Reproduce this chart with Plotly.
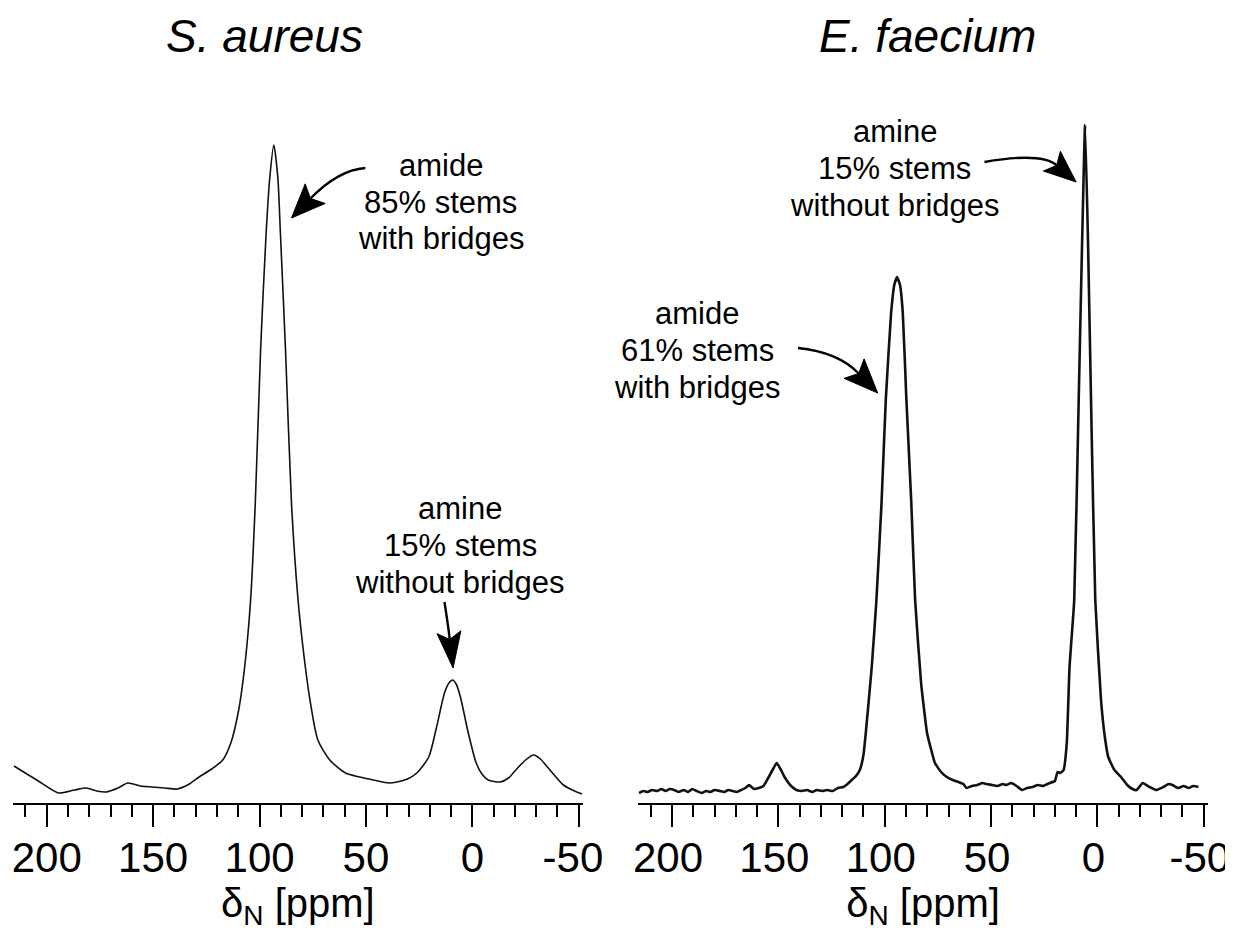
import math
import plotly.graph_objects as go

# ---------------- data (intensity in arbitrary units) -------------
sa_ppm = [215.4, 204.0, 194.4, 187.0, 181.4, 176.5, 172.1, 166.5, 161.9, 156.0, 150.7, 144.5,
          138.6, 133.0, 128.4, 122.5, 117.3, 113.5, 109.8, 107.0, 104.2, 102.0, 99.5, 96.9,
          95.2, 93.3, 91.4, 90.2, 87.8, 85.0, 81.9, 79.0, 76.3, 72.6, 67.0, 59.6, 53.0, 46.5,
          39.1, 35.4, 30.5, 26.1, 20.5, 16.8, 13.1, 11.0, 9.3, 7.6, 5.6, 1.9, -1.8, -4.5,
          -7.4, -13.0, -17.0, -20.4, -25.0, -28.8, -32.0, -35.3, -42.8, -48.0, -51.5]
sa_int = [37, 22, 10, 13, 15, 12, 11, 15, 20, 17, 16, 15,
          14, 19, 26, 34, 43, 60, 93, 136, 203, 300, 453, 570,
          625, 658, 625, 570, 453, 300, 203, 145, 103, 63, 43, 30, 26, 23,
          20, 21, 24, 30, 46, 76, 110, 120, 123, 119, 106, 70, 40, 29,
          23, 21, 25, 33, 43, 48, 44, 36, 18, 12, 9]

ef_ppm = [215.5, 213.5, 211.5, 209.5, 207.0, 205.0, 203.0, 201.0, 199.0, 197.0, 194.5, 192.5,
          190.5, 188.5, 186.0, 184.0, 182.0, 180.0, 177.5, 175.5, 173.5, 171.5, 169.5, 167.5,
          165.5, 163.8, 161.5, 159.2, 157.0, 154.5, 152.5, 150.8, 149.0, 147.1, 144.0, 141.5,
          139.0, 136.5, 134.0, 132.0, 129.5, 127.0, 124.5, 122.0, 119.5, 117.5, 115.5, 113.5,
          111.7, 110.0, 108.9, 106.1, 103.9, 101.5, 99.5, 97.0, 95.5, 94.2, 92.8, 91.5, 89.8,
          87.5, 85.7, 82.9, 80.1, 78.0, 76.4, 73.5, 70.8, 68.0, 65.3, 63.0, 61.5, 59.0, 56.5,
          54.0, 52.2, 49.5, 47.0, 44.5, 42.9, 40.5, 38.0, 35.4, 33.0, 30.5, 28.0, 25.5, 23.5,
          22.4, 20.0, 18.7, 17.5, 15.9, 14.4, 13.1, 10.9, 8.8, 7.2, 5.8, 4.4, 3.0, 1.0, -1.7,
          -3.5, -5.1, -8.0, -11.1, -14.0, -16.5, -18.5, -21.3, -24.5, -27.8, -31.0, -33.5,
          -35.3, -38.0, -40.5, -43.0, -45.0, -47.5]
ef_int = [10, 12, 11, 13, 12, 14, 12, 14, 13, 11, 13, 11,
          14, 12, 10, 12, 11, 13, 12, 11, 13, 12, 11, 13,
          15, 18, 14, 15, 17, 26, 34, 40, 34, 26, 17, 13,
          12, 13, 11, 13, 12, 13, 12, 15, 16, 19, 23, 27,
          33, 48, 70, 136, 203, 300, 403, 490, 518, 526, 518, 490, 403,
          300, 203, 120, 70, 52, 40, 31, 26, 23, 21, 19, 15, 17, 18,
          20, 19, 18, 17, 19, 18, 20, 17, 13, 15, 16, 18, 17, 19,
          20, 22, 31, 30, 33, 60, 136, 203, 403, 560, 678, 560, 403, 203, 103,
          66, 46, 33, 26, 18, 14, 13, 20, 16, 13, 16, 19,
          18, 15, 17, 15, 17, 16]

titles = ["<i>S. aureus</i>", "<i>E. faecium</i>"]
axis_title = "δ<sub>N</sub> [ppm]"
tick_vals = [200, 150, 100, 50, 0, -50]
tick_text_left = ["200", "150", "100", "50", "0", "-50\u00a0"]
tick_text_right = ["200", "150", "100", "50", "0", "-50"]

FONT = "Liberation Sans, Arial, Helvetica, sans-serif"

# page geometry (the page body adds an 8 px margin)
OFF = 8
FW, FH = 1225, 923
X_RANGE = [216, -52]
Y_RANGE = [0, 703]


def px(x):
    return (x - OFF) / FW


def py(y):
    return 1 - (y - OFF) / FH


left_dom = [px(12.7), px(583)]
right_dom = [px(638), px(1208)]
ydom = [py(803), py(100)]

fig = go.Figure()
fig.add_trace(go.Scatter(x=sa_ppm, y=sa_int, mode="lines", xaxis="x", yaxis="y",
                         line=dict(color="#111", width=1.6, shape="spline", smoothing=0.7),
                         showlegend=False, hoverinfo="skip"))
fig.add_trace(go.Scatter(x=ef_ppm, y=ef_int, mode="lines", xaxis="x2", yaxis="y2",
                         line=dict(color="#111", width=2.6, shape="spline", smoothing=0.4),
                         showlegend=False, hoverinfo="skip"))


def xaxis(domain, anchor, ticktext, shift):
    return dict(domain=domain, range=X_RANGE, anchor=anchor, automargin=False,
                showline=True, linecolor="black",
                linewidth=2, ticks="outside", ticklen=22, tickwidth=2, tickcolor="black",
                tickvals=tick_vals, ticktext=ticktext, showgrid=False, zeroline=False,
                ticklabelstandoff=-5, ticklabelshift=shift, ticklabeloverflow="allow",
                tickfont=dict(family=FONT, size=42, color="black"),
                minor=dict(dtick=10, tick0=0, ticks="outside", ticklen=12, tickwidth=2,
                           tickcolor="black", showgrid=False),
                title=dict(text=axis_title, font=dict(family=FONT, size=40, color="black"),
                           standoff=11))


def yaxis(domain, anchor):
    return dict(domain=domain, range=Y_RANGE, visible=False, anchor=anchor, automargin=False)


fig.update_layout(
    width=FW, height=FH, margin=dict(l=0, r=0, t=0, b=0, autoexpand=False),
    paper_bgcolor="white", plot_bgcolor="white",
    xaxis=xaxis(left_dom, "y", tick_text_left, 0), yaxis=yaxis(ydom, "x"),
    xaxis2=xaxis(right_dom, "y2", tick_text_right, 4), yaxis2=yaxis(ydom, "x2"),
)

# panel titles
for txt, xc in zip(titles, [264, 927]):
    fig.add_annotation(text=txt, xref="paper", yref="paper", x=px(xc), y=py(36),
                       showarrow=False, xanchor="center", yanchor="middle",
                       font=dict(family=FONT, size=46, color="black"))

# label texts (ppm, intensity of each line centre)
labels = [
    ("x", "y", 14.8, [638, 601, 565], ["amide", "85% stems", "with bridges"]),
    ("x", "y", 5.8, [295, 258, 221], ["amine", "15% stems", "without bridges"]),
    ("x2", "y2", 95.3, [671, 635, 598], ["amine", "15% stems", "without bridges"]),
    ("x2", "y2", 188.1, [490, 453, 416], ["amide", "61% stems", "with bridges"]),
]
for xr, yr, xc, ys, lines in labels:
    for yv, t in zip(ys, lines):
        fig.add_annotation(text=t, xref=xr, yref=yr, x=xc, y=yv, showarrow=False,
                           xanchor="center", yanchor="middle",
                           font=dict(family=FONT, size=31, color="black"))

# curved arrows: start, control, tip in data units; head length / half width in px
SX = (583 - 12.7) / (X_RANGE[0] - X_RANGE[1])  # px per ppm
arrows = [
    ("x", "y", (50.3, 635), (63.0, 633), (85.0, 585), 34, 14),
    ("x", "y", (13.1, 201), (11.4, 178), (9.05, 135), 36, 12),
    ("x2", "y2", (140.8, 455), (122.0, 451), (103.3, 410), 34, 14),
    ("x2", "y2", (53.1, 641), (26.4, 651), (10.0, 621), 32, 13),
]


def to_px(p):
    return (-p[0] * SX, p[1])


def to_data(q):
    return (-q[0] / SX, q[1])


for xr, yr, s, c, t, L, W in arrows:
    tx, ty = to_px(t)
    cx, cy = to_px(c)
    dx, dy = tx - cx, ty - cy
    n = math.hypot(dx, dy)
    ux, uy = dx / n, dy / n
    bx, by = tx - L * ux, ty - L * uy
    nx, ny = tx - 0.8 * L * ux, ty - 0.8 * L * uy
    c1 = to_data((bx - W * uy, by + W * ux))
    c2 = to_data((bx + W * uy, by - W * ux))
    notch = to_data((nx, ny))
    fig.add_shape(type="path", xref=xr, yref=yr,
                  path=f"M {s[0]},{s[1]} Q {c[0]},{c[1]} {notch[0]},{notch[1]}",
                  line=dict(color="black", width=2.4))
    fig.add_shape(type="path", xref=xr, yref=yr,
                  path=(f"M {t[0]},{t[1]} L {c1[0]},{c1[1]} L {notch[0]},{notch[1]} "
                        f"L {c2[0]},{c2[1]} Z"),
                  fillcolor="black", line=dict(color="black", width=1))

fig.write_html("out.html")
